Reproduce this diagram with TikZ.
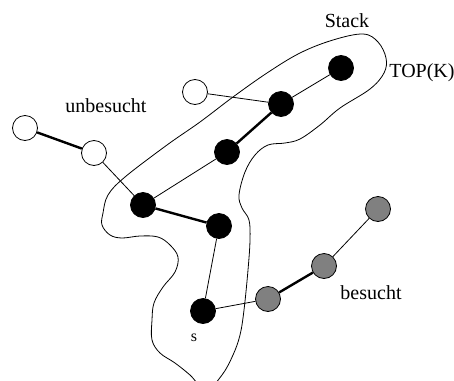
\documentclass[tikz,border=0pt]{standalone}
\usepackage{fontspec}
\setmainfont{Liberation Serif}
\begin{document}
\begin{tikzpicture}[x=1pt,y=-1pt,
  vtx/.style={circle,draw=black,line width=0.8pt,minimum size=25pt,inner sep=0pt},
  stackv/.style={vtx,fill=black},
  freev/.style={vtx,fill=white},
  seenv/.style={vtx,fill=gray},
  thinedge/.style={line width=0.8pt},
  thickedge/.style={line width=2.4pt},
  lbl/.style={font=\fontsize{20}{24}\selectfont,inner sep=0pt}]
\useasboundingbox (0,0) rectangle (454,380);
\clip (0,0) rectangle (454,380);
% stack outline
\draw[line width=0.8pt] plot[smooth cycle,tension=0.6] coordinates {
 (103,213) (108,195) (125,177) (167,145) (200,122) (233,97) (267,73) (300,53)
 (333,40) (363,34) (378,42) (386,58) (384,73) (370,89) (340,108) (320,125)
 (300,139) (285,143) (268,145) (255,155) (245,172) (239,195) (242,208)
 (249,220) (250,240) (248,270) (244,310) (240,335) (233,355) (222,375)
 (206,390) (190,375) (175,363) (160,353) (152,340) (152,320) (154,303)
 (163,287) (175,272) (178,257) (170,245) (158,237) (140,236) (122,238)
 (110,235) (102,225)};
% vertices
\node[stackv] (t) at (341,68) {};
\node[stackv] (a) at (281,104) {};
\node[stackv] (b) at (227,152) {};
\node[stackv] (c) at (143,205) {};
\node[stackv] (d) at (219,226) {};
\node[stackv] (s) at (203,311) {};
\node[freev] (w1) at (195,92) {};
\node[freev] (w2) at (25,128) {};
\node[freev] (w3) at (94,153) {};
\node[seenv] (g1) at (268,299) {};
\node[seenv] (g2) at (324,266) {};
\node[seenv] (g3) at (378,209) {};
% edges
\draw[thinedge] (t) -- (a);
\draw[thickedge] (a) -- (b);
\draw[thinedge] (b) -- (c);
\draw[thickedge] (c) -- (d);
\draw[thinedge] (d) -- (s);
\draw[thinedge] (w1) -- (a);
\draw[thickedge] (w2) -- (w3);
\draw[thinedge] (w3) -- (c);
\draw[thinedge] (s) -- (g1);
\draw[thickedge] (g1) -- (g2);
\draw[thinedge] (g2) -- (g3);
% labels
\node[lbl] (lstack) at (347,21) {Stack};
\node[lbl] (ltop) at (422,73) {TOP(K)};
\node[lbl] (lunb) at (106,106) {unbesucht};
\node[lbl] (lbes) at (371,293) {besucht};
\node[lbl,font=\fontsize{16}{19}\selectfont] (ls) at (194,338) {s};
\end{tikzpicture}
\end{document}
